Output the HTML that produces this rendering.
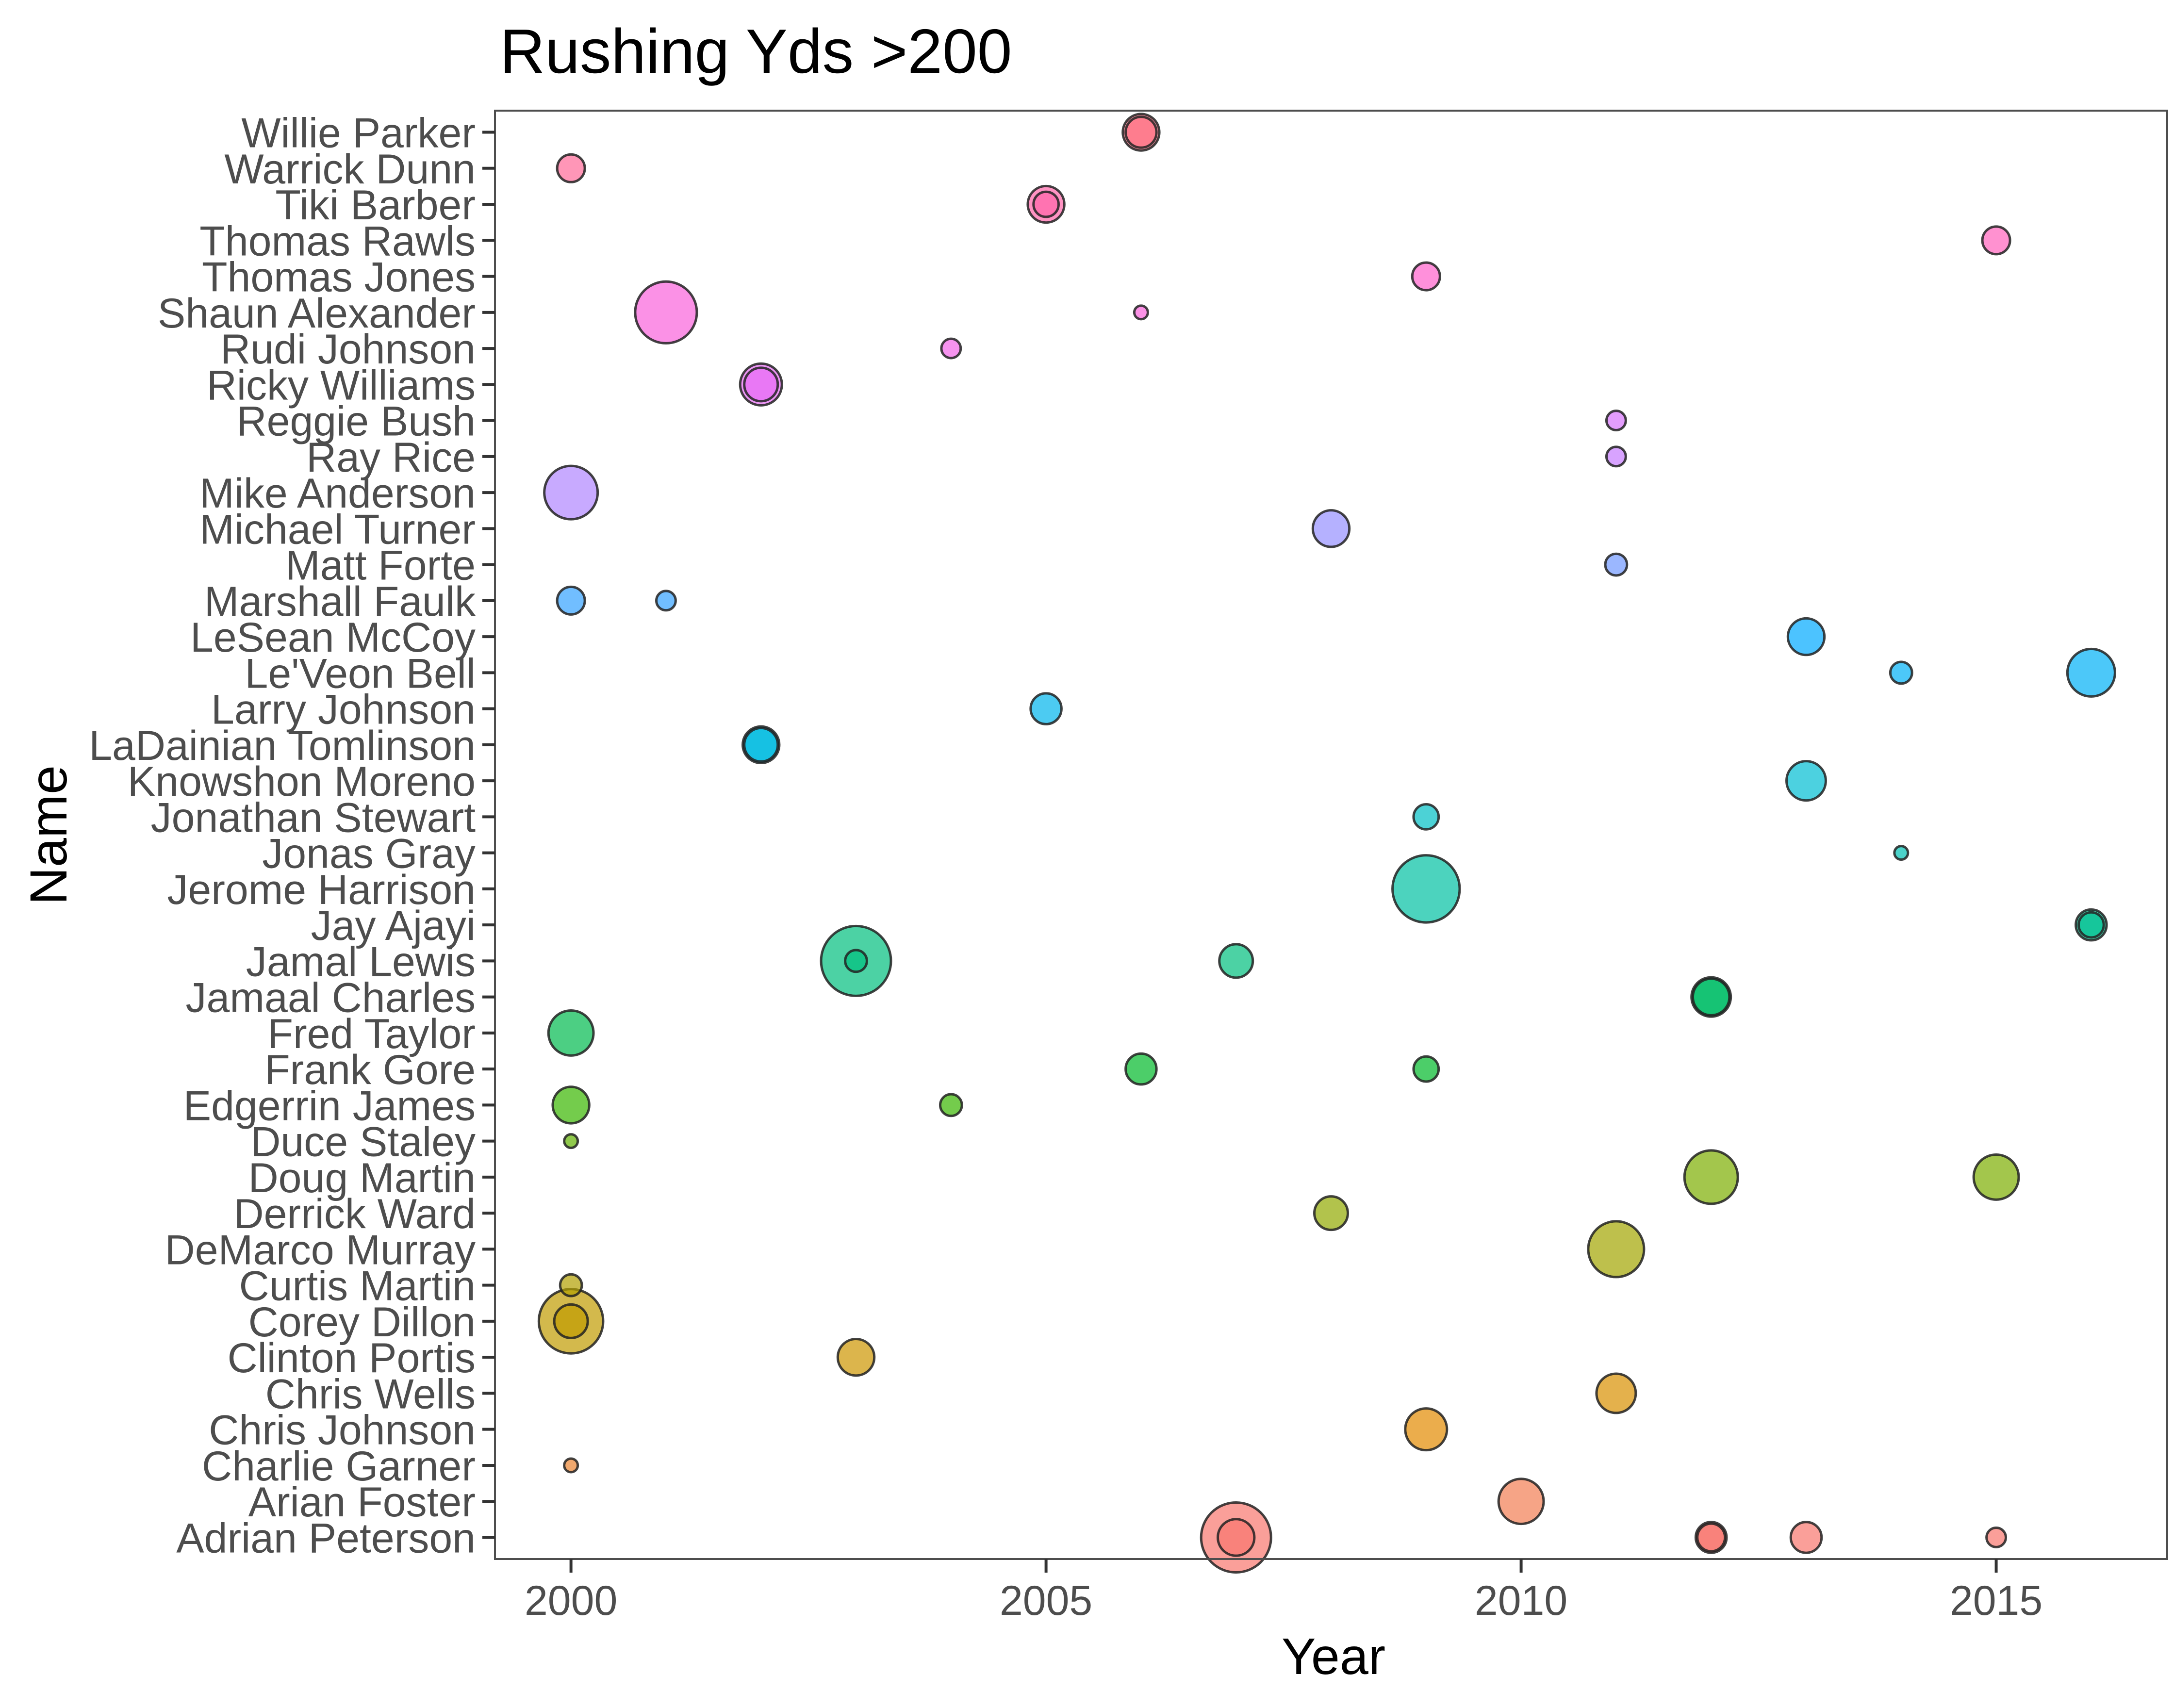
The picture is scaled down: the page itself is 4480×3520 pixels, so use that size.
<!DOCTYPE html>
<html><head><meta charset="utf-8"><style>
html,body{margin:0;padding:0;background:#fff;}
svg{display:block;font-family:"Liberation Sans",Arial,sans-serif;}
</style></head><body>
<svg id="chart" width="4480" height="3520" viewBox="0 0 4480 3520" xmlns="http://www.w3.org/2000/svg">
<rect x="0" y="0" width="4480" height="3520" fill="#fff"/>
<text x="1030" y="150" font-size="129" fill="#000">Rushing Yds &gt;200</text>
<text x="2748" y="3450" font-size="106" fill="#000" text-anchor="middle">Year</text>
<text transform="translate(137,1721) rotate(-90)" font-size="108" fill="#000" text-anchor="middle">Name</text>
<g id="marks"></g>
<rect x="1020" y="228" width="3446" height="2985" fill="none" stroke="#4d4d4d" stroke-width="4"/>
<g id="axes"></g>
</svg>
<script>
const names = ["Adrian Peterson","Arian Foster","Charlie Garner","Chris Johnson","Chris Wells","Clinton Portis","Corey Dillon","Curtis Martin","DeMarco Murray","Derrick Ward","Doug Martin","Duce Staley","Edgerrin James","Frank Gore","Fred Taylor","Jamaal Charles","Jamal Lewis","Jay Ajayi","Jerome Harrison","Jonas Gray","Jonathan Stewart","Knowshon Moreno","LaDainian Tomlinson","Larry Johnson","Le'Veon Bell","LeSean McCoy","Marshall Faulk","Matt Forte","Michael Turner","Mike Anderson","Ray Rice","Reggie Bush","Ricky Williams","Rudi Johnson","Shaun Alexander","Thomas Jones","Thomas Rawls","Tiki Barber","Warrick Dunn","Willie Parker"];
const xTicks = [2000, 2005, 2010, 2015];
const pointNames = ["Adrian Peterson","Adrian Peterson","Adrian Peterson","Adrian Peterson","Adrian Peterson","Adrian Peterson","Arian Foster","Charlie Garner","Chris Johnson","Chris Wells","Clinton Portis","Corey Dillon","Corey Dillon","Curtis Martin","DeMarco Murray","Derrick Ward","Doug Martin","Doug Martin","Duce Staley","Edgerrin James","Edgerrin James","Frank Gore","Frank Gore","Fred Taylor","Jamaal Charles","Jamaal Charles","Jamal Lewis","Jamal Lewis","Jamal Lewis","Jay Ajayi","Jay Ajayi","Jerome Harrison","Jonas Gray","Jonathan Stewart","Knowshon Moreno","LaDainian Tomlinson","LaDainian Tomlinson","Larry Johnson","Le'Veon Bell","Le'Veon Bell","LeSean McCoy","Marshall Faulk","Marshall Faulk","Matt Forte","Michael Turner","Mike Anderson","Ray Rice","Reggie Bush","Ricky Williams","Ricky Williams","Rudi Johnson","Shaun Alexander","Shaun Alexander","Thomas Jones","Thomas Rawls","Tiki Barber","Tiki Barber","Warrick Dunn","Willie Parker","Willie Parker"];
const pointYears = [2007,2007,2012,2012,2013,2015,2010,2000,2009,2011,2003,2000,2000,2000,2011,2008,2012,2015,2000,2000,2004,2006,2009,2000,2012,2012,2003,2003,2007,2016,2016,2009,2014,2009,2013,2002,2002,2005,2014,2016,2013,2000,2001,2011,2008,2000,2011,2011,2002,2002,2004,2001,2006,2009,2015,2005,2005,2000,2006,2006];
const pointYards = [296,216,209,206,209,201,230,200,224,220,216,278,212,202,254,212,248,230,200,216,202,209,204,230,220,216,296,202,212,209,204,287,200,204,220,216,212,209,202,235,216,206,201,202,216,248,201,201,224,212,201,270,200,206,206,216,204,206,216,209];

const X0=1020, X1=4466, XMIN=1999.2, XMAX=2016.8;
const Y0=228, Y1=3213;
function xScale(v){return X0+(v-XMIN)/(XMAX-XMIN)*(X1-X0);}
const step=(Y1-Y0)/(names.length-1+1.2);
function yScale(n){const i=names.indexOf(n);return Y1-step*(0.6+i);}
const vMin=Math.min(...pointYards), vMax=Math.max(...pointYards);
function rScale(v){const t=(v-vMin)/(vMax-vMin);return 14+58*Math.sqrt(t);}
function hcl(h,c,l){
  const hr=h*Math.PI/180,u=c*Math.cos(hr),v=c*Math.sin(hr);
  const Y=l>8?Math.pow((l+16)/116,3):l/903.3;
  const un=0.19784,vn=0.46834;
  const up=u/(13*l)+un,vp=v/(13*l)+vn;
  const X=Y*9*up/(4*vp),Z=Y*(12-3*up-20*vp)/(4*vp);
  let r=3.2406*X-1.5372*Y-0.4986*Z,g=-0.9689*X+1.8758*Y+0.0415*Z,b=0.0557*X-0.2040*Y+1.0570*Z;
  const gm=x=>{x=x<=0.0031308?12.92*x:1.055*Math.pow(x,1/2.4)-0.055;return Math.round(Math.max(0,Math.min(1,x))*255);};
  return `rgb(${gm(r)},${gm(g)},${gm(b)})`;
}
function colorOf(n){const i=names.indexOf(n);return hcl(15+360*i/names.length,100,65);}
const NS="http://www.w3.org/2000/svg";
const marks=document.getElementById('marks'), axes=document.getElementById('axes');
const order=pointNames.map((_,i)=>i).sort((a,b)=>pointYards[b]-pointYards[a]);
order.forEach(i=>{
  const c=document.createElementNS(NS,'circle');
  c.setAttribute('cx',xScale(pointYears[i]));
  c.setAttribute('cy',yScale(pointNames[i]));
  c.setAttribute('r',rScale(pointYards[i]));
  c.setAttribute('fill',colorOf(pointNames[i]));
  c.setAttribute('fill-opacity','0.7');
  c.setAttribute('stroke','#222');
  c.setAttribute('stroke-opacity','0.85');
  c.setAttribute('stroke-width','5');
  
  
  marks.appendChild(c);
});
names.forEach(n=>{
  const y=yScale(n);
  const t=document.createElementNS(NS,'line');
  t.setAttribute('x1',X0-26);t.setAttribute('x2',X0);t.setAttribute('y1',y);t.setAttribute('y2',y);
  t.setAttribute('stroke','#333');t.setAttribute('stroke-width','6');
  
  
  axes.appendChild(t);
  const l=document.createElementNS(NS,'text');
  l.setAttribute('x',X0-40);l.setAttribute('y',y+31);
  l.setAttribute('text-anchor','end');l.setAttribute('font-size','86');l.setAttribute('fill','#4d4d4d');
  l.textContent=n;
  
  
  axes.appendChild(l);
});
xTicks.forEach(v=>{
  const x=xScale(v);
  const t=document.createElementNS(NS,'line');
  t.setAttribute('x1',x);t.setAttribute('x2',x);t.setAttribute('y1',Y1);t.setAttribute('y2',Y1+28);
  t.setAttribute('stroke','#333');t.setAttribute('stroke-width','6');
  
  
  axes.appendChild(t);
  const l=document.createElementNS(NS,'text');
  l.setAttribute('x',x);l.setAttribute('y',3328);
  l.setAttribute('text-anchor','middle');l.setAttribute('font-size','86');l.setAttribute('fill','#4d4d4d');
  l.textContent=v;
  
  
  axes.appendChild(l);
});
</script>
</body></html>
